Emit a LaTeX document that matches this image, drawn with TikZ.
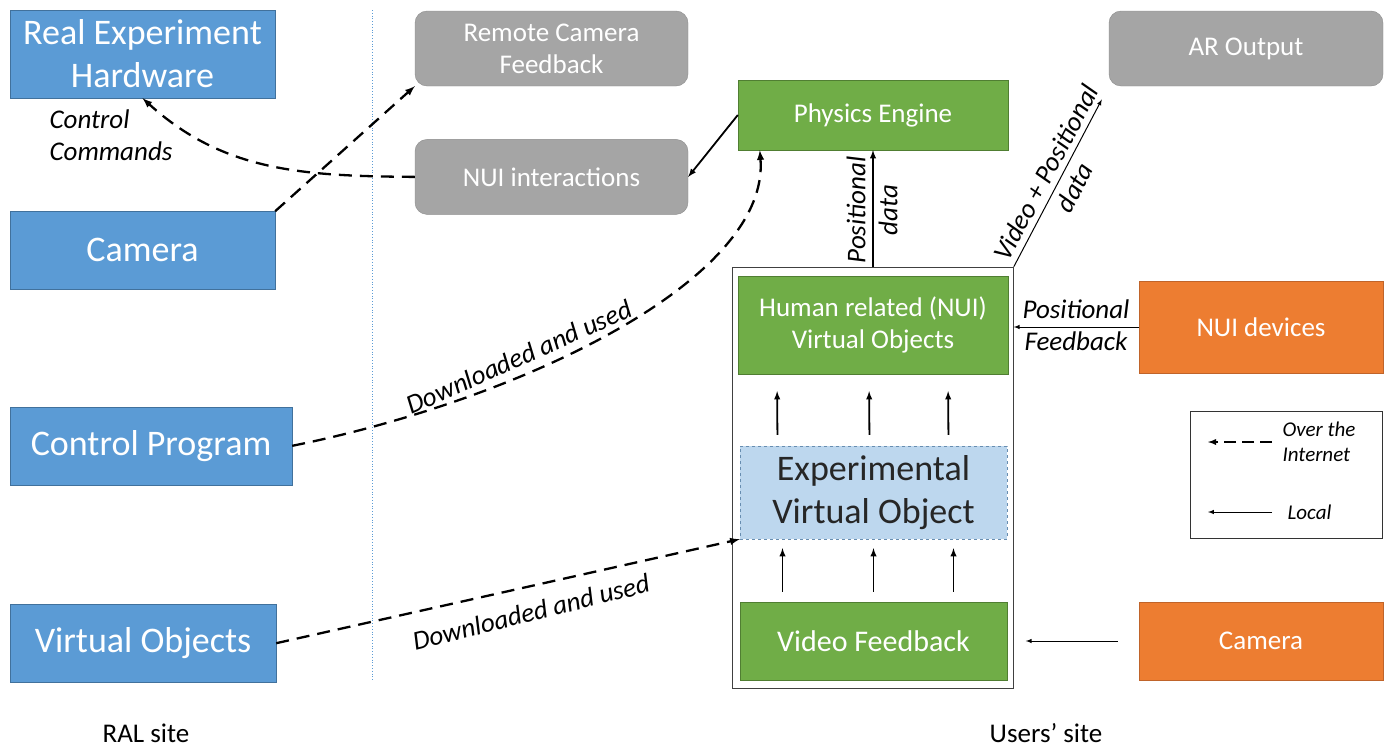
\documentclass[tikz,border=0pt]{standalone}
\usepackage{fontspec}
\setmainfont{Carlito}
\usetikzlibrary{positioning,arrows,fit,calc}

\definecolor{ralblue}{HTML}{5B9BD5}
\definecolor{raledge}{HTML}{41719C}
\definecolor{remgrey}{HTML}{A5A5A5}
\definecolor{remedge}{HTML}{8C8C8C}
\definecolor{usrgreen}{HTML}{70AD47}
\definecolor{usredge}{HTML}{507E32}
\definecolor{devorange}{HTML}{ED7D31}
\definecolor{devedge}{HTML}{C0642A}
\definecolor{expblue}{HTML}{BDD7EE}

\newcommand{\bigtxt}{\fontsize{36}{43}\selectfont}
\newcommand{\midtxt}{\fontsize{27}{32}\selectfont}
\newcommand{\vidtxt}{\fontsize{30}{36}\selectfont}
\newcommand{\legtxt}{\fontsize{21}{25}\selectfont}

\tikzstyle{ralbox}=[rectangle, draw=raledge, fill=ralblue, text=white, minimum width=265pt, minimum height=78pt, inner sep=2pt, align=center, font=\bigtxt]
\tikzstyle{rembox}=[rectangle, rounded corners=12pt, draw=remedge, fill=remgrey, text=white, minimum width=273pt, minimum height=75pt, inner sep=2pt, align=center, font=\midtxt]
\tikzstyle{usrbox}=[rectangle, draw=usredge, fill=usrgreen, text=white, minimum width=270pt, inner sep=2pt, align=center, font=\midtxt]
\tikzstyle{devbox}=[rectangle, draw=devedge, fill=devorange, text=white, minimum width=244pt, inner sep=2pt, align=center, font=\midtxt]
\tikzstyle{lbl}=[font=\midtxt\itshape, align=center, inner sep=1pt]
\tikzstyle{netline}=[-latex, line width=2.3pt, dash pattern=on 13pt off 8pt]
\tikzstyle{locline}=[-latex, line width=1.8pt]
\tikzstyle{thinline}=[-latex, line width=1pt]

\begin{document}
\begin{tikzpicture}[x=1pt, y=-1pt]
\useasboundingbox (0,0) rectangle (1389,747);

% RAL side
\node (REH) [ralbox, minimum height=88pt] at (142.5,54) {Real Experiment\\Hardware};
\node (CAM) [ralbox, below=113pt of REH.south west, anchor=north west] {Camera};
\node (CP) [ralbox, minimum width=282pt, below=117pt of CAM.south west, anchor=north west] {Control Program};
\node (VO) [ralbox, minimum width=266pt, below=119pt of CP.south west, anchor=north west] {Virtual Objects};
\node (RAL) [font=\midtxt] at (146,733) {RAL site};

\draw[ralblue, dotted, line width=0.8pt] (372,10) -- (372,680);

% remote feedback
\node (RCF) [rembox] at (551.5,48.5) {Remote Camera\\Feedback};
\node (NUII) [rembox, below=53pt of RCF] {NUI interactions};
\node (AR) [rembox, minimum width=274pt] at (1246,48.5) {AR Output};

% users' site
\node (PE) [usrbox, minimum height=70pt] at (873,115) {Physics Engine};
\node (HVO) [usrbox, minimum height=98pt] at (873,325) {Human related (NUI)\\Virtual Objects};
\node (EVO) [rectangle, draw=raledge!80, dashed, fill=expblue, minimum width=267pt, minimum height=93pt, inner sep=2pt, align=center, font=\bigtxt, text=black!85] at (873.5,492.5) {Experimental\\Virtual Object};
\node (VF) [usrbox, minimum width=267pt, minimum height=78pt, font=\vidtxt] at (873.5,641) {Video Feedback};
\node (OBOX) [draw=black!75, line width=1.2pt, fit=(HVO)(VF), inner xsep=5pt, inner ysep=8.5pt] {};
\node (USR) [font=\midtxt] at (1046,733) {Users' site};

\node (NUID) [devbox, minimum height=92pt] at (1261,327) {NUI devices};
\node (UCAM) [devbox, minimum height=78pt] at (1261,641) {Camera};

% legend
\node (LEG) [draw=black!80, line width=1pt, minimum width=192pt, minimum height=127pt] at (1286,474.5) {};
\node (LNET) [font=\legtxt\itshape, align=left, anchor=west] at (1279,442) {Over the\\Internet};
\node (LLOC) [font=\legtxt\itshape, anchor=west] at (1284,512) {Local};
\coordinate (LNETend) at (1208,442);
\coordinate (LLOCend) at (1208,512);
\draw[netline, line width=1.8pt, dash pattern=on 12pt off 6pt, shorten <=7pt] (LNET.west) -- (LNETend);
\draw[thinline, shorten <=12pt] (LLOC.west) -- (LLOCend);

% over the internet
\draw[netline] (CAM.north east) -- (RCF.south west);
\draw[netline] (NUII.west) .. controls (304,176) and (224,172) .. (REH.south);
\node (CCMD) [lbl, align=left] at (111,135) {Control\\Commands};
\draw[netline] (CP.east) .. controls (520,400) and (770,280) .. ([xshift=22pt]PE.south west);
\node (DL1) [lbl, rotate=24] at (519,357) {Downloaded and used};
\draw[netline] (VO.east) -- (EVO.south west);
\node (DL2) [lbl, rotate=14] at (531,612) {Downloaded and used};

% local links
\draw[locline] (PE.west) -- (NUII.east);
\draw[locline] (OBOX.north) -- (PE.south);
\node (POSD) [lbl, rotate=90] at (872,210) {Positional\\data};
\draw[thinline, shorten >=15pt] (OBOX.north east) -- (AR.south west);
\node (VPD) [lbl, rotate=62] at (1060,180) {Video + Positional\\data};
\draw[thinline] (NUID.west) -- (NUID.west -| OBOX.east);
\node (POSF) [lbl] at (1076,325) {Positional\\Feedback};
\draw[thinline, shorten <=21pt, shorten >=12pt] (UCAM.west) -- (UCAM.west -| OBOX.east);

\foreach \dx in {-96,-4,75}
  \draw[locline, shorten <=11pt, shorten >=17pt] ([xshift=\dx pt]EVO.north) -- ([xshift=\dx pt]HVO.south);
\foreach \dx in {-91,0,80}
  \draw[locline, shorten <=10pt, shorten >=9pt] ([xshift=\dx pt]VF.north) -- ([xshift=\dx pt]EVO.south);
\end{tikzpicture}
\end{document}
